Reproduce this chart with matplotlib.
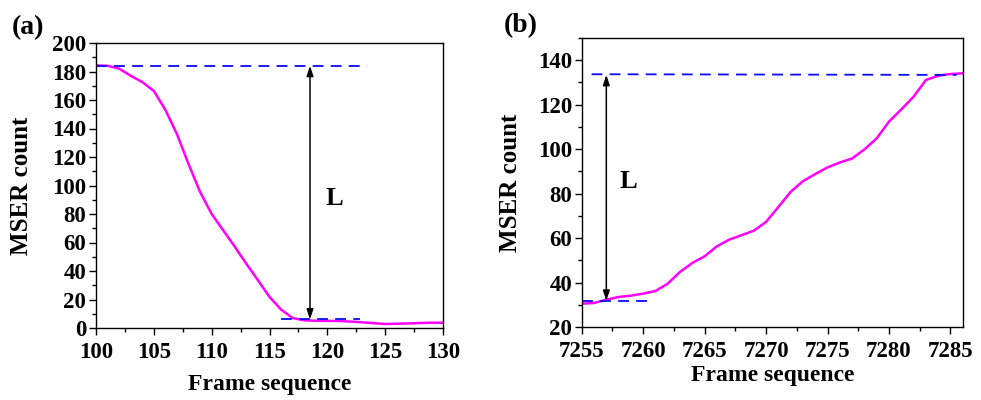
import matplotlib.pyplot as plt
from matplotlib.ticker import MultipleLocator

plt.rcParams['font.family'] = ['Liberation Serif', 'DejaVu Serif']
plt.rcParams['font.weight'] = 'bold'

# (a) falling MSER count
frames_a = list(range(100, 131))
count_a = [184.3, 184, 182, 177, 172.6, 166.3, 153, 136, 115, 95.4,
           80, 68.5, 57, 45, 33.5, 21.8, 12.9, 7, 5.4, 5.1,
           5, 4.9, 4.5, 4, 3.4, 2.8, 3, 3.2, 3.5, 3.7, 3.7]

# (b) rising MSER count
frames_b = list(range(7255, 7287))
count_b = [30.5, 30.8, 32.3, 33.5, 34.1, 35, 36.2, 39.5, 44.8, 48.8,
           51.8, 56.3, 59.3, 61.3, 63.3, 67.3, 74, 80.8, 85.6, 88.8,
           91.8, 94, 95.8, 99.9, 104.9, 112.4, 117.9, 123.6, 131.1, 133,
           133.8, 134.1]

fig = plt.figure(figsize=(9.81, 4), dpi=100)
ax1 = fig.add_axes([0.0979, 0.18, 0.3537, 0.7125])
ax2 = fig.add_axes([0.593, 0.1825, 0.3884, 0.7225])

magenta = '#ff00ff'
blue = '#0a0aff'


def style(ax):
    ax.tick_params(which='both', direction='out', top=False, right=False,
                   labelsize=16.5, width=1)
    ax.tick_params(axis='x', pad=5)
    ax.tick_params(axis='y', pad=2)
    ax.tick_params(which='major', length=5)
    ax.tick_params(which='minor', length=3)
    for s in ax.spines.values():
        s.set_linewidth(1)
    ax.set_xlabel('Frame sequence', fontsize=17, fontweight='bold')
    ax.set_ylabel('MSER count', fontsize=18, fontweight='bold')


# panel (a)
ax1.plot(frames_a, count_a, color=magenta, lw=1.8)
ax1.plot([100, 123.4], [184, 184], color=blue, lw=1.3, dashes=(6, 4))
ax1.plot([116, 122.8], [6.5, 6.5], color=blue, lw=1.3, dashes=(6, 4))
ax1.annotate('', xy=(118.5, 6), xytext=(118.5, 184),
             arrowprops=dict(arrowstyle='<|-|>,head_width=0.2,head_length=0.6',
                             color='black', lw=1.1, shrinkA=0, shrinkB=0))
ax1.text(120.6, 91, 'L', fontsize=19, fontweight='bold', ha='center', va='center')
ax1.set_xlim(100, 130)
ax1.set_ylim(0, 200)
ax1.xaxis.set_major_locator(MultipleLocator(5))
ax1.xaxis.set_minor_locator(MultipleLocator(2.5))
ax1.yaxis.set_major_locator(MultipleLocator(20))
ax1.yaxis.set_minor_locator(MultipleLocator(10))
style(ax1)
ax1.xaxis.labelpad = 8
ax1.yaxis.labelpad = 14
fig.text(0.012, 0.932, '(a)', fontsize=20, fontweight='bold', va='center')

# panel (b)
ax2.plot(frames_b, count_b, color=magenta, lw=1.8)
ax2.plot([7255.8, 7285.5], [133.7, 133.4], color=blue, lw=1.3, dashes=(6, 4))
ax2.plot([7255, 7260.7], [31.6, 31.6], color=blue, lw=1.3, dashes=(6, 4))
ax2.annotate('', xy=(7257, 31.8), xytext=(7257, 133.4),
             arrowprops=dict(arrowstyle='<|-|>,head_width=0.2,head_length=0.6',
                             color='black', lw=1.1, shrinkA=0, shrinkB=0))
ax2.text(7258.8, 85.3, 'L', fontsize=19, fontweight='bold', ha='center', va='center')
ax2.set_xlim(7255, 7286)
ax2.set_ylim(20, 150)
ax2.xaxis.set_major_locator(MultipleLocator(5))
ax2.xaxis.set_minor_locator(MultipleLocator(2.5))
ax2.yaxis.set_major_locator(MultipleLocator(20))
ax2.yaxis.set_minor_locator(MultipleLocator(10))
style(ax2)
ax2.xaxis.labelpad = 2
ax2.yaxis.labelpad = 11
fig.text(0.514, 0.937, '(b)', fontsize=20, fontweight='bold', va='center')

fig.savefig('out.png', dpi=100)
